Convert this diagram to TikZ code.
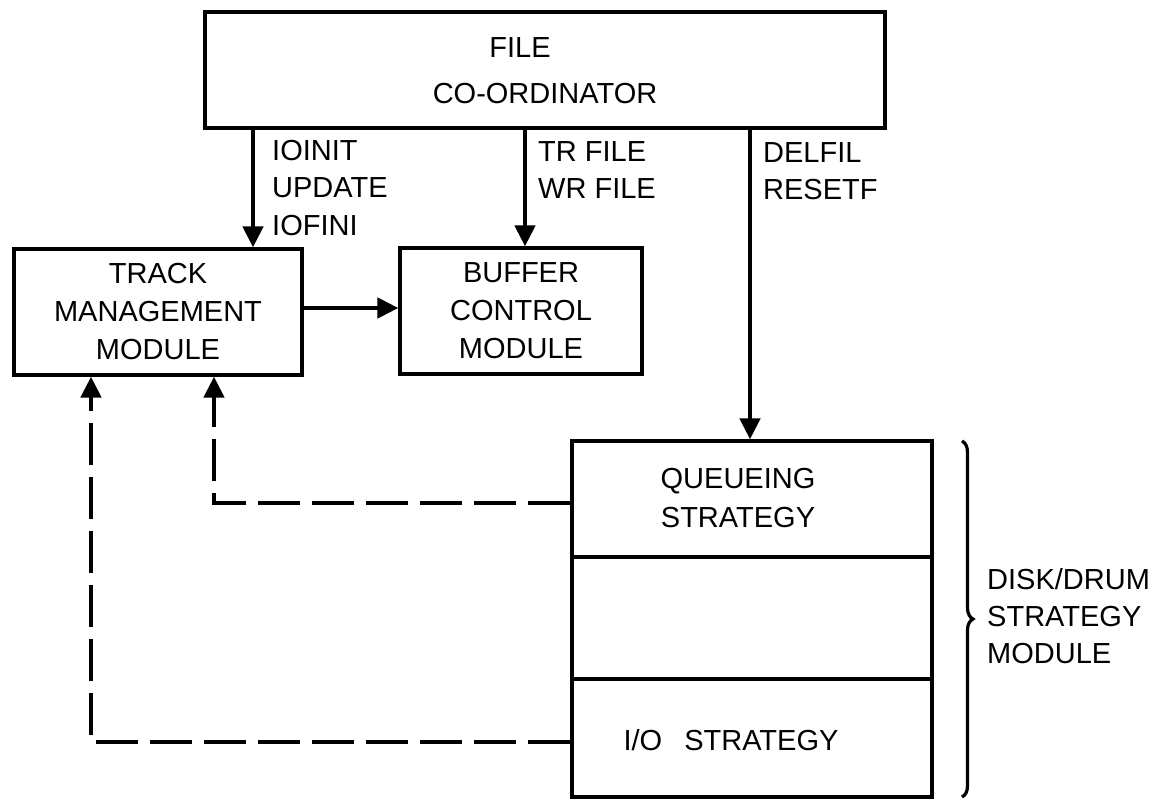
\documentclass[tikz,border=0pt]{standalone}
\usepackage{fontspec}
\setmainfont{Liberation Sans}
\usetikzlibrary{arrows.meta,decorations.pathreplacing}
\tikzset{
  box/.style={draw, line width=3.2pt, inner sep=0pt, align=center, font=\fontsize{29}{38}\selectfont},
  txt/.style={inner sep=0pt, align=center, font=\fontsize{29}{38}\selectfont},
  lbl/.style={anchor=west, align=left, inner sep=0pt, font=\fontsize{29}{37.5}\selectfont},
  arr/.style={line width=4.5pt, -{Triangle[length=21pt,width=20pt]}},
  dasharr/.style={line width=4.5pt, dash pattern=on 42pt off 12pt, -{Triangle[length=21pt,width=20pt]}},
}
\begin{document}
\begin{tikzpicture}[x=1pt,y=-1pt]
\useasboundingbox (0,0) rectangle (1170,799);
% boxes
\node[box, minimum width=680pt, minimum height=116pt] (file) at (545,70) {};
\node[txt] (filet) at (520,48) {FILE};
\node[txt] (cot) at (545,94) {CO-ORDINATOR};
\node[box, minimum width=288pt, minimum height=126pt] (tmm) at (158,312) {TRACK\\MANAGEMENT\\MODULE};
\node[box, minimum width=242pt, minimum height=126pt] (buf) at (521,311) {BUFFER\\CONTROL\\MODULE};
\node[box, minimum width=360pt, minimum height=116pt] (q) at (752,499) {};
\node[txt] (qt) at (738,498) {QUEUEING\\[1pt]STRATEGY};
\node[box, minimum width=360pt, minimum height=122pt] (mid) at (752,618) {};
\node[box, minimum width=360pt, minimum height=118pt] (io) at (752,738) {};
\node[txt] (iot) at (731,740) {I/O\hspace{22pt}STRATEGY};
% helper coordinates
\coordinate (c1) at (253,0);
\coordinate (c2) at (525,0);
\coordinate (c3) at (750,0);
\coordinate (c4) at (310,308);
\coordinate (d1) at (214,503);
\coordinate (d2) at (91,742);
% solid arrows
\draw[arr] (c1 |- file.south) -- (c1 |- tmm.north);
\draw[arr] (c2 |- file.south) -- (c2 |- buf.north);
\draw[arr] (c3 |- file.south) -- (c3 |- q.north);
\draw[arr] (tmm.east |- c4) -- (buf.west |- c4);
% labels
\node[lbl] (l1) at (272,188) {IOINIT\\UPDATE\\IOFINI};
\node[lbl] (l2) at (538,170) {TR FILE\\WR FILE};
\node[lbl] (l3) at (763,171) {DELFIL\\RESETF};
% dashed feedback arrows
\draw[dasharr] (q.west |- d1) -- (d1) -- (d1 |- tmm.south);
\draw[dasharr] (io.west |- d2) -- (d2) -- (d2 |- tmm.south);
% brace
\coordinate (b1) at (962,441);
\coordinate (b2) at (962,797);
\draw[line width=3.2pt, decorate, decoration={brace, amplitude=11pt}] (b1) -- (b2);
\node[lbl, font=\fontsize{29}{37}\selectfont] (dd) at (987,616) {DISK/DRUM\\STRATEGY\\MODULE};
\end{tikzpicture}
\end{document}
